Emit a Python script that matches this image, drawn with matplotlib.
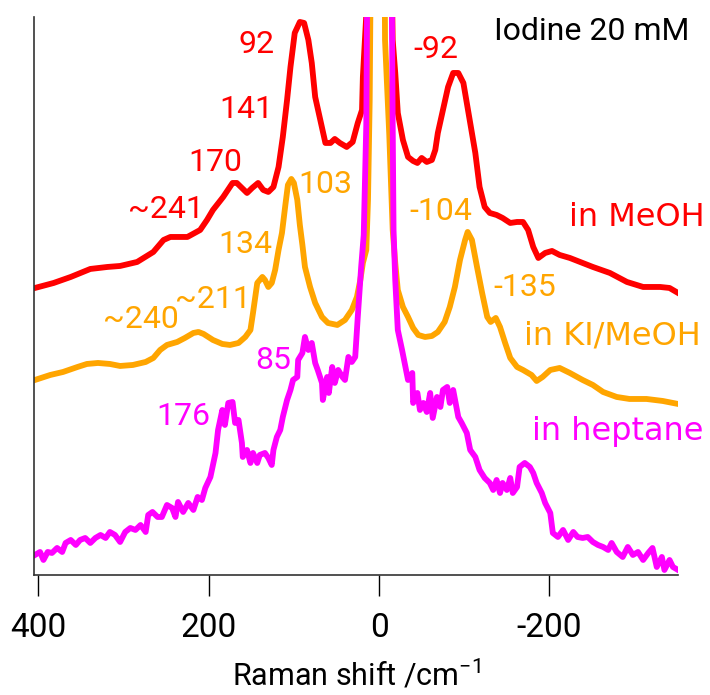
import numpy as np
import matplotlib
matplotlib.use('Agg')
import matplotlib.pyplot as plt

plt.rcParams['font.family'] = ['Roboto', 'DejaVu Sans']
plt.rcParams['mathtext.default'] = 'regular'

# Raman shift (cm-1) and intensity (a.u., vertical offsets included)
meoh_x = [404, 382, 362, 339, 319, 304, 284, 265, 253, 245, 225, 210, 202, 195, 183, 172, 167, 161, 155, 149,
          142, 136, 130, 124, 118, 113, 108, 104, 99, 93, 88, 83, 79, 75, 69, 63, 57, 52, 46, 38,
          31, 25, 20, 19, 15, 12,
          -13, -16, -19, -22, -28, -34, -40, -45, -50, -56, -62, -66, -69, -75, -81, -87, -93, -99, -103, -107,
          -113, -118, -124, -130, -138, -145, -154, -162, -169, -175, -181, -187, -195, -203, -212, -224, -236, -251,
          -271, -291, -310, -330, -341, -351]
meoh_y = [287, 292, 298, 306, 308, 309, 313, 323, 335, 338, 338, 345, 355, 365, 378, 392, 392, 387, 382, 387,
          392, 385, 383, 388, 408, 438, 475, 508, 542, 553, 552, 535, 512, 478, 455, 432, 432, 436, 432, 428,
          433, 452, 465, 498, 560, 700,
          700, 535, 502, 462, 435, 418, 414, 412, 417, 413, 415, 425, 442, 465, 488, 502, 502, 492, 472, 452,
          422, 388, 368, 362, 360, 357, 352, 353, 353, 345, 328, 317, 322, 324, 320, 317, 313, 308,
          302, 293, 288, 288, 287, 282]

ki_x = [404, 386, 371, 354, 343, 330, 316, 304, 289, 274, 265, 257, 249, 237, 228, 218, 212, 206, 195, 184,
        175, 165, 157, 151, 148, 143, 137, 134, 130, 126, 122, 118, 114, 110, 107, 103, 100, 96, 93, 90,
        87, 81, 75, 67, 60, 49, 40, 32, 26, 22, 19, 15, 13, 11, 9,
        -6, -7, -12, -16, -19, -22, -28, -34, -40, -46, -54, -62, -69, -77, -83, -89, -95, -101, -104, -109,
        -115, -121, -127, -131, -137, -142, -148, -154, -162, -169, -179, -185, -192, -201, -212, -224, -239, -251,
        -263, -279, -294, -314, -333, -351]
ki_y = [195, 200, 203, 208, 211, 212, 211, 209, 210, 213, 217, 225, 230, 233, 237, 242, 243, 241, 235, 231,
        230, 232, 238, 245, 262, 292, 298, 295, 288, 292, 305, 325, 342, 370, 390, 396, 392, 375, 350, 330,
        308, 288, 272, 258, 252, 250, 255, 265, 278, 295, 312, 325, 375, 475, 700,
        700, 535, 440, 345, 312, 285, 268, 258, 247, 240, 238, 239, 243, 253, 268, 288, 315, 335, 343, 335,
        308, 282, 258, 253, 257, 248, 232, 217, 208, 205, 200, 194, 198, 205, 207, 202, 195, 190,
        183, 178, 176, 176, 174, 171]

hep_x = [404, 398, 394, 389, 384, 378, 372, 368, 362, 356, 351, 345, 339, 333, 327, 321, 316, 310, 304, 298,
         292, 286, 280, 274, 271, 266, 260, 255, 249, 243, 239, 236, 230, 224, 218, 213, 208, 204, 198, 192,
         189, 184, 181, 177, 172, 169, 165, 161, 160, 155, 151, 148, 143, 140, 134, 130, 126, 124, 120, 116,
         113, 108, 104, 101, 96, 95, 90, 87, 83, 79, 75, 72, 67, 66, 61, 59, 55, 52, 48, 43,
         40, 36, 32, 28, 25, 21, 18, 15, 13,
         -14, -16, -17, -19, -22, -27, -30, -34, -39, -40, -45, -48, -52, -56, -60, -63, -68, -72, -75, -80,
         -83, -87, -93, -97, -103, -107, -113, -118, -124, -130, -134, -138, -142, -145, -150, -154, -157, -162, -165, -171,
         -177, -181, -185, -191, -195, -201, -204, -210, -216, -222, -228, -233, -239, -245, -251, -257, -263, -269, -273, -279,
         -286, -292, -298, -304, -310, -316, -321, -326, -332, -335, -341, -345, -351]
hep_y = [20, 23, 15, 23, 22, 27, 23, 32, 35, 30, 35, 37, 32, 37, 40, 37, 43, 40, 33, 43,
         47, 45, 50, 43, 60, 63, 58, 58, 70, 67, 58, 73, 63, 72, 65, 78, 75, 87, 98, 122,
         145, 165, 150, 172, 173, 152, 155, 132, 118, 125, 112, 122, 112, 120, 122, 117, 110, 125, 138, 145,
         158, 175, 185, 195, 198, 215, 222, 238, 225, 232, 212, 205, 192, 175, 198, 182, 208, 192, 205, 198,
         195, 218, 213, 218, 258, 308, 340, 450, 700,
         700, 450, 345, 295, 245, 225, 212, 195, 202, 172, 182, 165, 172, 163, 182, 157, 178, 168, 185, 188,
         172, 185, 158, 152, 142, 125, 118, 105, 97, 92, 85, 95, 82, 92, 85, 97, 82, 88, 108, 112,
         108, 102, 92, 82, 72, 62, 42, 38, 45, 35, 43, 38, 37, 38, 33, 30, 28, 25, 32, 23,
         18, 28, 20, 23, 15, 22, 27, 8, 18, 5, 15, 8, 5]

red = '#ff0000'
orange = '#ffa500'
magenta = '#ff00ff'

fig = plt.figure(figsize=(7.1, 6.95), dpi=100)
ax = fig.add_axes([0.048, 0.1727, 0.907, 0.8029])
ax.plot(meoh_x, meoh_y, color=red, lw=4.2)
ax.plot(ki_x, ki_y, color=orange, lw=4.2)
ax.plot(hep_x, hep_y, color=magenta, lw=4.2)

ax.set_xlim(405, -351)
ax.set_ylim(0, 558)
ax.set_yticks([])
ax.set_xticks([400, 200, 0, -200])
ax.set_xticklabels(['400', '200', '0', '-200'])
ax.tick_params(axis='x', direction='out', length=15, width=1, pad=12, labelsize=24)
for s in ['top', 'right']:
    ax.spines[s].set_visible(False)
for s in ['left', 'bottom']:
    ax.spines[s].set_linewidth(1.2)
    ax.spines[s].set_color('#333333')
ax.set_xlabel('Raman shift /cm$^{-1}$', fontsize=22, labelpad=10)

# peak labels
peaks = [
    ('92', 144, 530, red), ('141', 156, 465, red), ('170', 192, 412, red), ('~241', 250, 365, red),
    ('103', 63, 390, orange), ('134', 157, 330, orange), ('~211', 195, 275, orange), ('~240', 279, 255, orange),
    ('85', 124, 214, magenta), ('176', 230, 158, magenta),
    ('-92', -67, 525, red), ('-104', -72, 363, orange), ('-135', -171, 287, orange),
    ('Iodine 20 mM', -250, 543, 'black'),
]
for txt, x, y, c in peaks:
    ax.text(x, y, txt, color=c, fontsize=23, ha='center', va='center')

solvents = [('in MeOH', -303, 357, red), ('in KI/MeOH', -274, 239, orange), ('in heptane', -280, 143, magenta)]
for txt, x, y, c in solvents:
    ax.text(x, y, txt, color=c, fontsize=23, ha='center', va='center', family=['DejaVu Sans'])

plt.savefig('out.png', dpi=100)
